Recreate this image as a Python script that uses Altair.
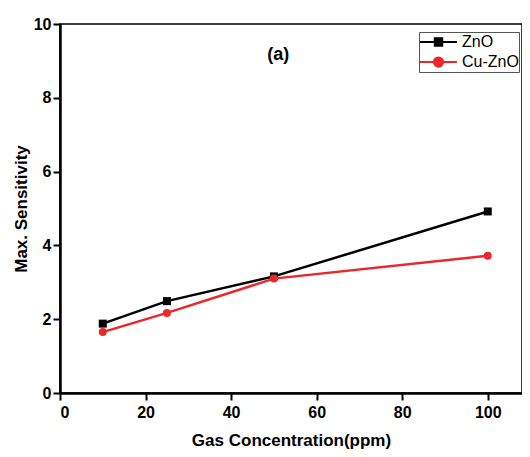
import altair as alt
import pandas as pd

conc = [10, 25, 50, 100]
zno = [1.88, 2.49, 3.16, 4.92]
cuzno = [1.65, 2.17, 3.10, 3.72]
series_names = ["ZnO", "Cu-ZnO"]
series_colors = ["#000000", "#e8282b"]
legend_paths = [
    "M-1,0H1M-0.2,-0.2H0.2V0.2H-0.2Z",
    "M-1,0H1M-0.25,0A0.25,0.25,0,1,0,0.25,0A0.25,0.25,0,1,0,-0.25,0Z",
]
panel_label = "(a)"
label_pos = (51, 9.15)

df = pd.DataFrame({
    "conc": conc * 2,
    "sens": zno + cuzno,
    "series": [series_names[0]] * len(conc) + [series_names[1]] * len(conc),
})

FONT = "Liberation Sans"

x = alt.X("conc:Q", scale=alt.Scale(domain=[0, 108], nice=False),
          axis=alt.Axis(title="Gas Concentration(ppm)", values=[0, 20, 40, 60, 80, 100]))
y = alt.Y("sens:Q", scale=alt.Scale(domain=[0, 10], nice=False),
          axis=alt.Axis(title="Max. Sensitivity", values=[0, 2, 4, 6, 8, 10]))

layers = []
shapes = ["square", "circle"]
for name, col, shp in zip(series_names, series_colors, shapes):
    base = alt.Chart(df).transform_filter(alt.datum.series == name)
    layers.append(base.mark_line(strokeWidth=2.5, color=col).encode(x=x, y=y))
    layers.append(base.mark_point(filled=True, opacity=1, size=64, shape=shp, color=col).encode(x=x, y=y))

leg = alt.Legend(
    title=None, orient="none", legendX=359, legendY=8,
    symbolSize=1369, symbolStrokeWidth=2, symbolOpacity=1,
    labelFont=FONT, labelFontSize=16, labelColor="black",
    labelOffset=4, padding=0, rowPadding=0, clipHeight=20,
    strokeColor="#555555", fillColor="white",
)
legend_layer = alt.Chart(df).mark_point(opacity=0).encode(
    x=x, y=y,
    fill=alt.Fill("series:N", scale=alt.Scale(domain=series_names, range=series_colors), legend=leg),
    stroke=alt.Stroke("series:N", scale=alt.Scale(domain=series_names, range=series_colors), legend=leg),
    shape=alt.Shape("series:N", scale=alt.Scale(domain=series_names, range=legend_paths), legend=leg),
)

label_df = pd.DataFrame({"x": [label_pos[0]], "y": [label_pos[1]], "t": [panel_label]})
text_layer = alt.Chart(label_df).mark_text(
    font=FONT, fontSize=18, fontWeight="bold", color="black", baseline="middle"
).encode(x=alt.X("x:Q"), y=alt.Y("y:Q"), text="t:N")

chart = alt.layer(*layers, legend_layer, text_layer).properties(
    width=462, height=369,
    autosize=alt.AutoSizeParams(type="none"),
    padding={"left": 52, "top": 16, "right": 0, "bottom": 56},
).configure_view(
    stroke="black", strokeWidth=1.5
).configure_axis(
    grid=False,
    domainColor="black", domainWidth=2.5,
    tickColor="black", tickWidth=2, tickSize=7,
    labelFont=FONT, labelFontSize=16, labelFontWeight="bold", labelColor="black",
    titleFont=FONT, titleFontSize=17, titleFontWeight="bold", titleColor="black",
).configure_axisX(
    labelPadding=4, titlePadding=12,
).configure_axisY(
    labelPadding=2, titlePadding=3,
)

chart.save("out.html", embed_options={"renderer": "svg", "actions": False})
